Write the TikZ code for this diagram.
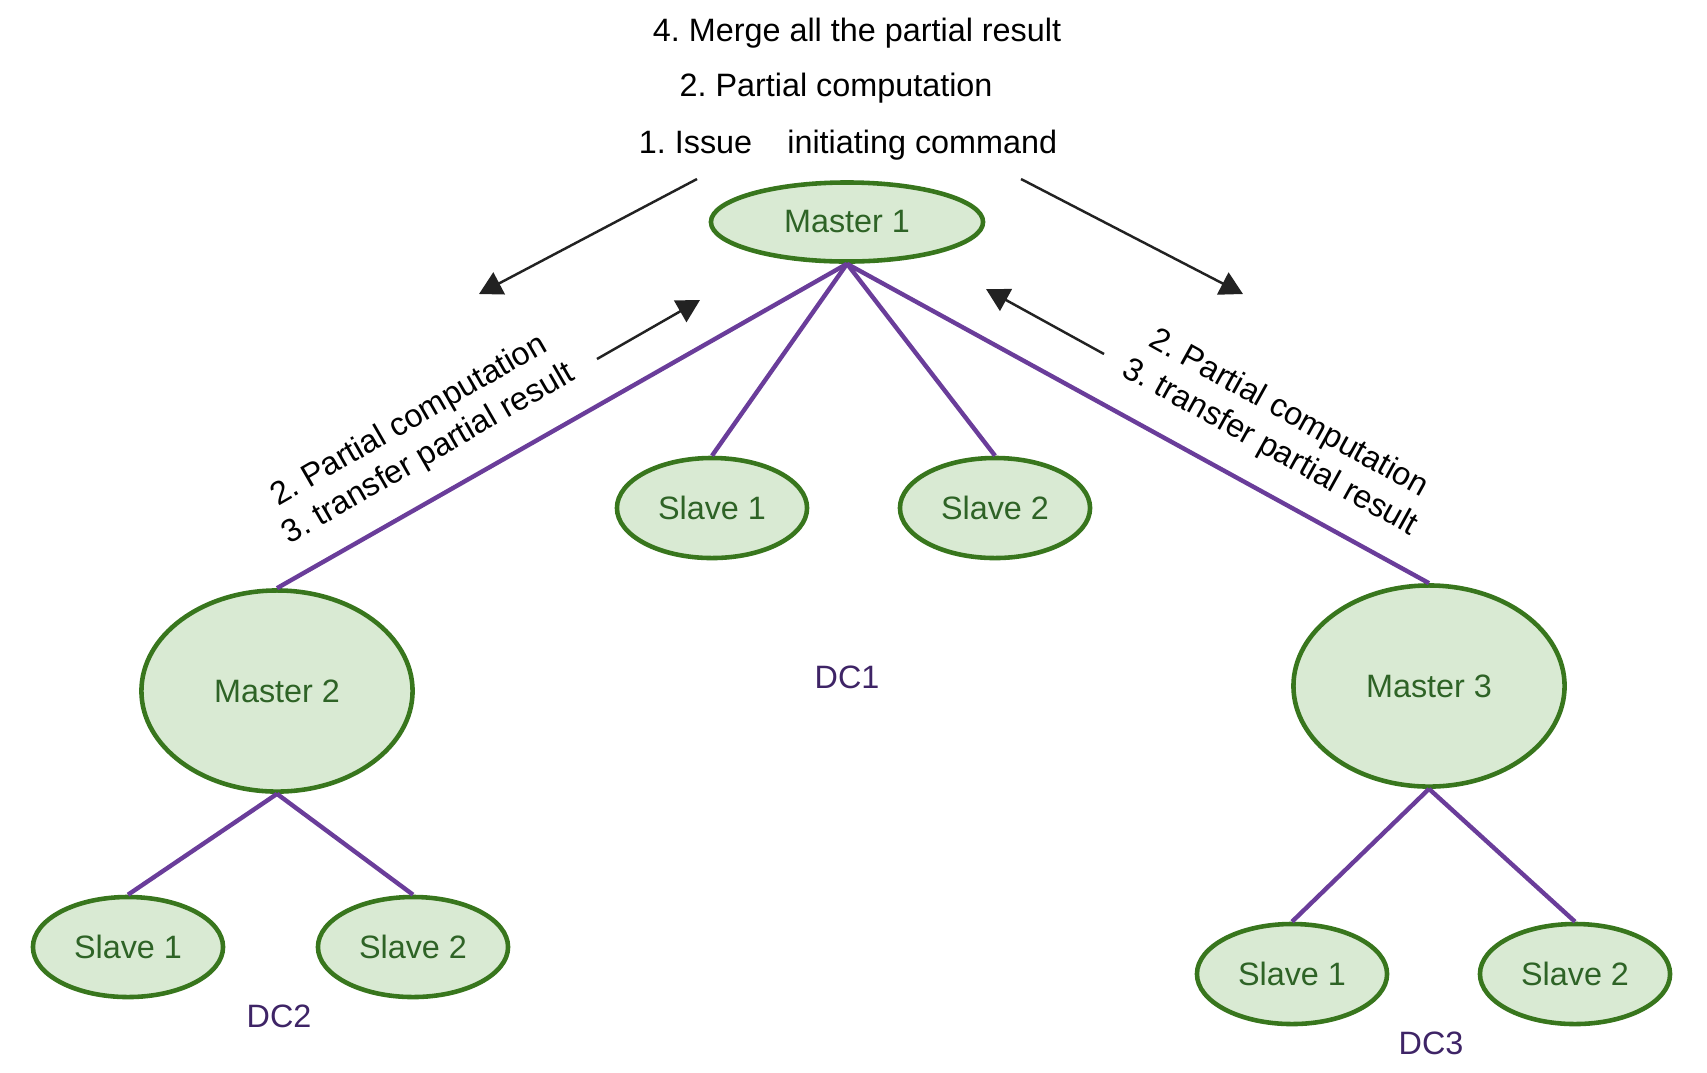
\documentclass[tikz,border=0pt]{standalone}
\usepackage{fontspec}
\setmainfont{Liberation Sans}
\usetikzlibrary{shapes.geometric,arrows.meta}
\definecolor{nodefill}{HTML}{D9EAD3}
\definecolor{nodeborder}{HTML}{38761D}
\definecolor{nodetext}{HTML}{2E6326}
\definecolor{linkcolor}{HTML}{6A3D9A}
\definecolor{dccolor}{HTML}{3E2466}
\definecolor{flowcolor}{HTML}{222222}
\frenchspacing
\begin{document}
\begin{tikzpicture}[x=0.01cm, y=-0.01cm,
            every node/.style={font=\fontsize{9.2pt}{11pt}\selectfont},
            machine/.style={ellipse, draw=nodeborder, fill=nodefill, line width=1.3pt, text=nodetext, inner sep=0pt},
            master/.style={machine, minimum width=2.71cm, minimum height=2.01cm},
            slave/.style={machine, minimum width=1.9cm, minimum height=1cm},
            link/.style={linkcolor, line width=1.25pt},
            flow/.style={flowcolor, line width=0.7pt, -{Triangle[length=6.5pt, width=7pt]}},
            dclabel/.style={text=dccolor}
        ]
        \useasboundingbox (0,0) rectangle (1707,1072);

        % Steps written above the first master
        \node (t4) at (857,33) {4. Merge all the partial result};
        \node (t2) at (836,88) {2. Partial computation};
        \node (t1) at (848,145) {1. Issue\hspace{10pt}initiating command};

        % Masters of the three data centres
        \node[machine, minimum width=2.72cm, minimum height=0.79cm] (m1) at (847,222) {Master 1};
        \node[master] (m2) at (277,691) {Master 2};
        \node[master] (m3) at (1429,686) {Master 3};

        % Two slaves under every master
        \foreach \dc/\xa/\xb/\y in {1/712/995/508, 2/128/413/947, 3/1292/1575/974} {
                \node[slave] (s\dc1) at (\xa,\y) {Slave 1};
                \node[slave] (s\dc2) at (\xb,\y) {Slave 2};
                \draw[link] (m\dc.south) -- (s\dc1.north);
                \draw[link] (m\dc.south) -- (s\dc2.north);
            }

        % Links between the masters
        \draw[link] (m1.south) -- (m2.north);
        \draw[link] (m1.south) -- (m3.north);

        % Data centre names
        \node[dclabel] (dc1) at (847,677) {DC1};
        \node[dclabel] (dc2) at (279,1016) {DC2};
        \node[dclabel] (dc3) at (1431,1043) {DC3};

        % Messages along the master links
        \node[rotate=30, align=center] (left msg) at (419,438) {2. Partial computation\\3. transfer partial result};
        \node[rotate=-29, align=center] (right msg) at (1279,431) {2. Partial computation\\3. transfer partial result};

        % Direction of the messages
        \coordinate (issue l) at (697,179);
        \coordinate (issue l end) at (479,294);
        \coordinate (issue r) at (1021,179);
        \coordinate (issue r end) at (1243,294);
        \coordinate (back l) at (597,359);
        \coordinate (back l end) at (700,300);
        \coordinate (back r) at (1104,354);
        \coordinate (back r end) at (986,289);
        \draw[flow] (issue l) -- (issue l end);
        \draw[flow] (issue r) -- (issue r end);
        \draw[flow] (back l) -- (back l end);
        \draw[flow] (back r) -- (back r end);
    \end{tikzpicture}
\end{document}
